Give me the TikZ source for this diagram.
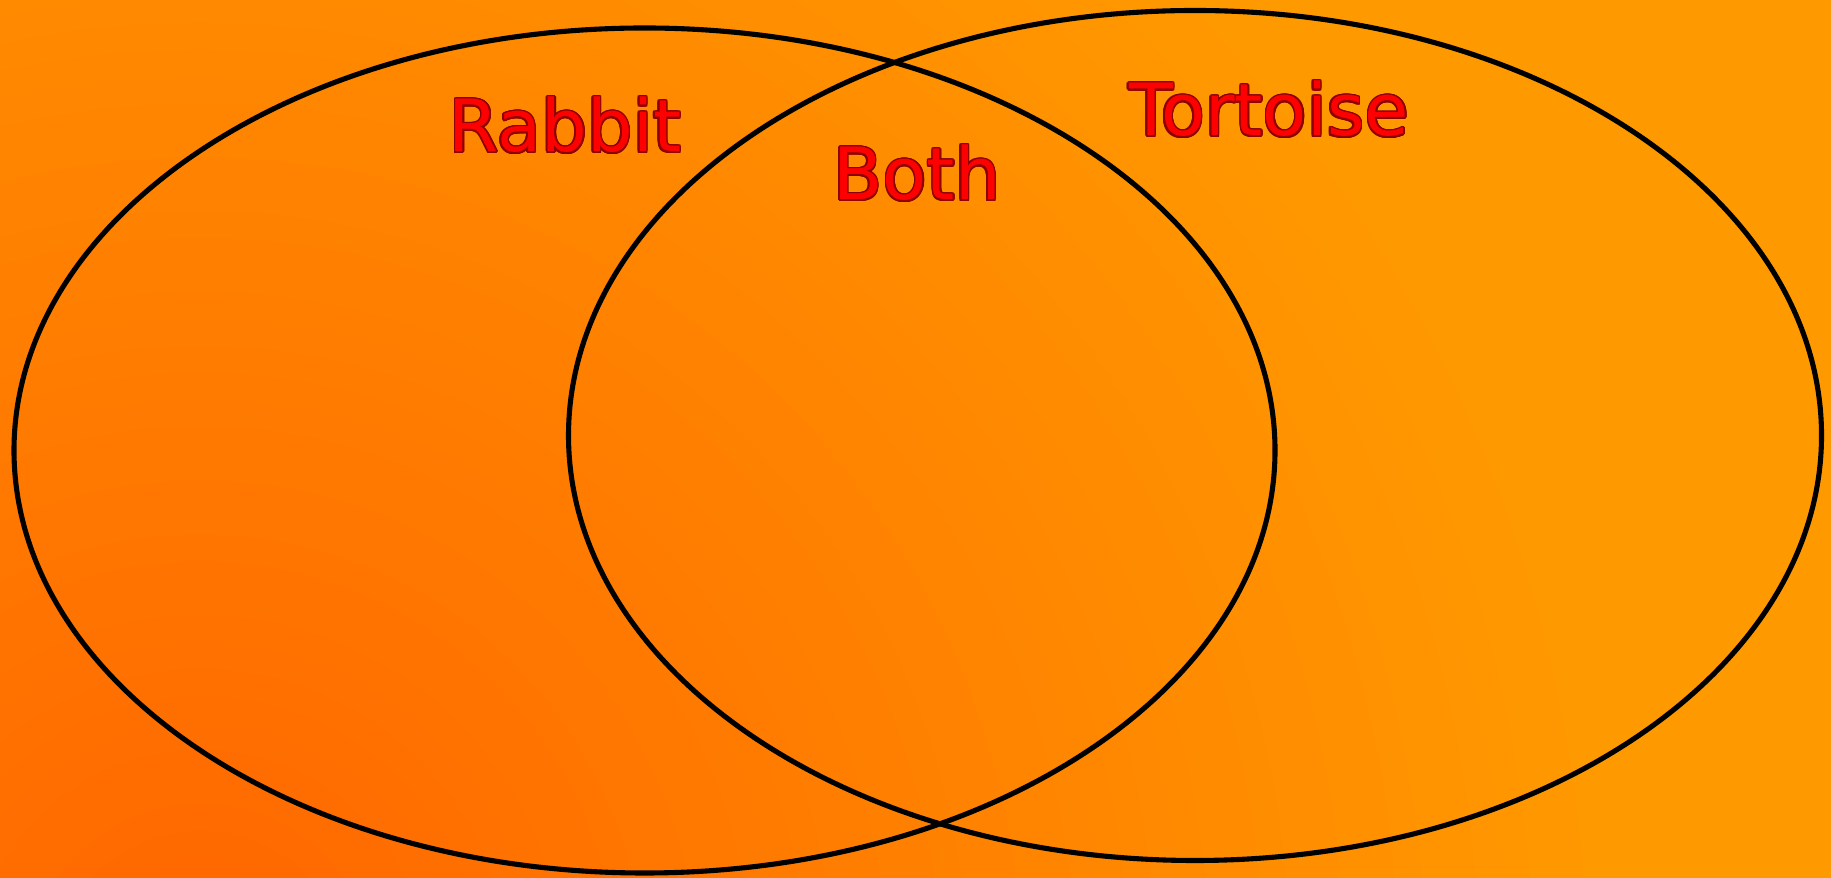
\documentclass[tikz,border=0pt]{standalone}
\usepackage{fontspec}
\setmainfont{DejaVu Sans}
\usepackage{contour}
\contourlength{0.45pt}
\usepackage{tikz}

\definecolor{bgdark}{HTML}{FF6500}
\definecolor{bglight}{HTML}{FF9900}
\definecolor{wordfill}{HTML}{FF0000}
\definecolor{wordline}{HTML}{8B0000}

\tikzset{
  venn/.style={draw=black,line width=1.45pt},
  word/.style={anchor=base,inner sep=0pt,text=wordfill,font=\fontsize{20.5}{24}\selectfont}
}

\begin{document}
\begin{tikzpicture}
% background
\useasboundingbox (0,0) rectangle (18.31,8.78);
\fill[bglight] (0,0) rectangle (18.31,8.78);
\begin{scope}
\clip (0,0) rectangle (18.31,8.78);
\shade[inner color=bgdark,outer color=bglight] (2,-1) circle (14);
\end{scope}

% the two sets
\draw[venn] (6.445,4.275) ellipse (6.305 and 4.225);
\draw[venn] (11.95,4.425) ellipse (6.265 and 4.25);

% labels
\node[word] (rabbit) at (5.65,7.26) {\contour{wordline}{Rabbit}};
\node[word] (both) at (9.17,6.78) {\contour{wordline}{Both}};
\node[word] (tortoise) at (12.69,7.42) {\contour{wordline}{Tortoise}};
\end{tikzpicture}
\end{document}
